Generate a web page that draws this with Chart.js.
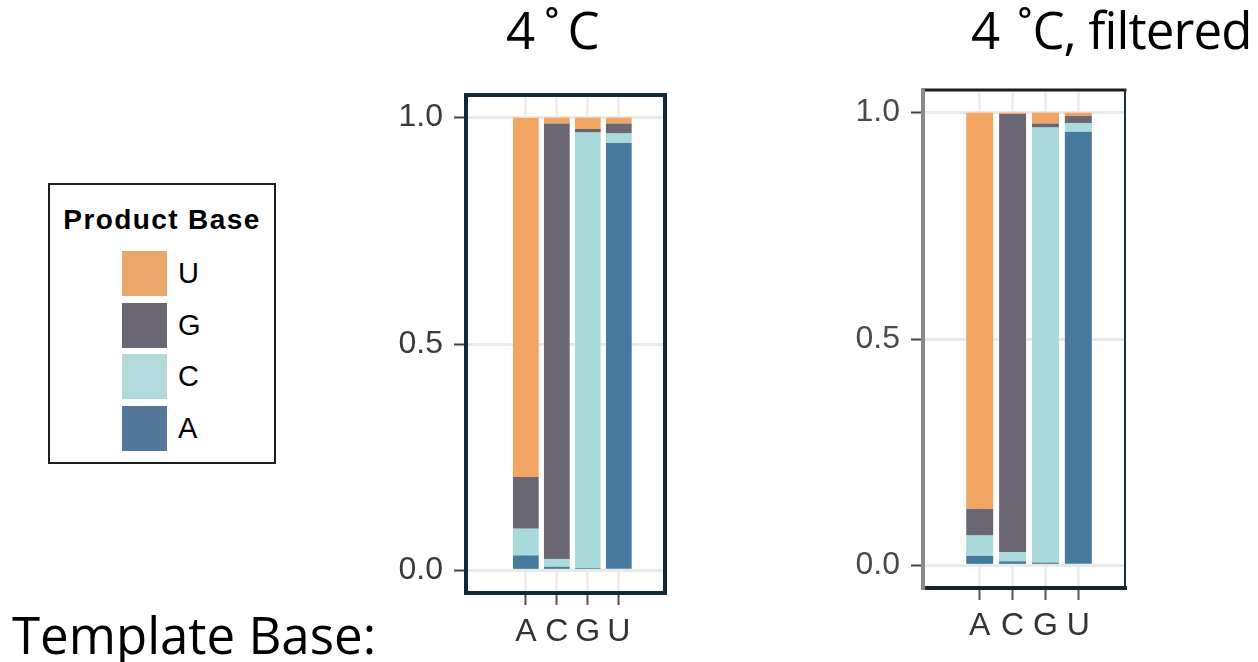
<!DOCTYPE html>
<html>
<head>
<meta charset="utf-8">
<title>Product base by template base, 4˚C</title>
<script src="https://cdn.jsdelivr.net/npm/chart.js@4.4.1/dist/chart.umd.min.js"></script>
<style>
  html, body { margin: 0; padding: 0; background: #fff; }
  body { width: 1258px; height: 662px; position: relative; overflow: hidden; font-family: "Open Sans", sans-serif; }
  .slideText { position: absolute; font-size: 51px; line-height: 51px; color: #000; white-space: nowrap; }
  .chartBox { position: absolute; }
  #legend { position: absolute; left: 48px; top: 183px; width: 224px; height: 277px; border: 2px solid #1e1e1e;
            font-family: "Liberation Sans", Arial, sans-serif; color: #000; }
  #legend .legendTitle { position: absolute; left: 0; right: 0; top: 19px; text-align: center; font-weight: bold;
                         font-size: 28px; letter-spacing: 1.4px; }
  #legend .legendRow { position: absolute; left: 72px; height: 45px; display: flex; align-items: center; }
  #legend .swatch { width: 45px; height: 45px; }
  #legend .legendLabel { margin-left: 11px; font-size: 29px; }
</style>
</head>
<body>
<div class="slideText" id="title1" style="left:506px; top:4px;">4<span style="margin-left:9px">˚</span><span style="margin-left:8px">C</span></div>
<div class="slideText" id="title2" style="left:971px; top:4px;">4<span style="margin-left:17px">˚</span><span style="letter-spacing:-0.9px">C, filtered</span></div>
<div class="slideText" style="left:12px; top:609px;">Template Base:</div>

<div id="legend"><div class="legendTitle">Product Base</div></div>

<div class="chartBox" style="left:370px; top:85px;"><canvas id="coldChart" width="320" height="577"></canvas></div>
<div class="chartBox" style="left:830px; top:80px;"><canvas id="filteredChart" width="320" height="582"></canvas></div>

<script>
// categories
const templateBases = ['A', 'C', 'G', 'U'];
const productBases = ['A', 'C', 'G', 'U'];       // stacking order, bottom to top
const legendOrder = ['U', 'G', 'C', 'A'];
const yTickValues = [0, 0.5, 1];
const yTickLabels = ['0.0', '0.5', '1.0'];

// 4˚C : fraction of each product base, one value per template base (A, C, G, U)
const coldA = [0.033, 0.008, 0.005, 0.944];
const coldC = [0.059, 0.017, 0.962, 0.021];
const coldG = [0.114, 0.962, 0.008, 0.022];
const coldU = [0.794, 0.013, 0.025, 0.013];

// 4˚C, filtered
const filtA = [0.021, 0.009, 0.006, 0.958];
const filtC = [0.045, 0.020, 0.961, 0.019];
const filtG = [0.059, 0.968, 0.009, 0.016];
const filtU = [0.875, 0.003, 0.024, 0.007];

const barColours = { A: '#457a9c', C: '#aadadb', G: '#6b6674', U: '#f2a462' };
const legendColours = { A: '#55789a', C: '#b3d9db', G: '#6b6674', U: '#e9a76b' };

// legend box
let legendDiv = document.querySelector('#legend');
legendOrder.forEach((base, i) => {
    let row = document.createElement('div');
    row.className = 'legendRow';
    row.style.top = (66 + i * 51.7) + 'px';
    let sw = document.createElement('div');
    sw.className = 'swatch';
    sw.style.background = legendColours[base];
    let lab = document.createElement('span');
    lab.className = 'legendLabel';
    lab.textContent = base;
    row.appendChild(sw);
    row.appendChild(lab);
    legendDiv.appendChild(row);
});

// draws the dark panel frame round the chart area
const panelFrame = {
    id: 'panelFrame',
    afterDraw(chart, args, opts) {
        const { left, right, top, bottom } = chart.chartArea;
        const ctx = chart.ctx;
        ctx.save();
        ctx.lineCap = 'square';
        const side = (s, x1, y1, x2, y2) => {
            ctx.strokeStyle = s.color;
            ctx.lineWidth = s.width;
            ctx.beginPath();
            ctx.moveTo(x1, y1);
            ctx.lineTo(x2, y2);
            ctx.stroke();
        };
        side(opts.top, left, top, right, top);
        side(opts.bottom, left, bottom, right, bottom);
        side(opts.left, left, top, left, bottom);
        side(opts.right, right, top, right, bottom);
        ctx.restore();
    }
};

const tickFont = { family: '"Liberation Sans", Arial, sans-serif', size: 32 };

function makeChart(canvasId, values, setup) {
    let datasets = productBases.map(base => ({
        label: base,
        data: values[base].map((v, i) => ({ x: i, y: v })),
        backgroundColor: barColours[base],
        borderWidth: 0,
        barPercentage: setup.barPercentage,
        categoryPercentage: 1
    }));
    return new Chart(document.querySelector(canvasId), {
        type: 'bar',
        data: { datasets: datasets },
        plugins: [panelFrame],
        options: {
            responsive: false,
            animation: false,
            layout: { padding: { top: setup.padTop, right: setup.padRight, left: 0, bottom: 0 } },
            plugins: {
                legend: { display: false },
                tooltip: { enabled: false },
                panelFrame: setup.frame
            },
            scales: {
                x: {
                    type: 'linear',
                    stacked: true,
                    bounds: 'data',
                    offset: false,
                    min: setup.xMin,
                    max: setup.xMax,
                    border: { display: false },
                    grid: { offset: false, color: '#eeeeee', lineWidth: 3, tickColor: '#555', tickLength: 12, tickWidth: 2 },
                    ticks: { font: tickFont, color: '#333', padding: setup.xPad, maxRotation: 0,
                             callback: (v) => templateBases[v] },
                    afterBuildTicks: (scale) => { scale.ticks = templateBases.map((b, i) => ({ value: i })); },
                    afterFit: (scale) => { scale.height = setup.xHeight; scale.paddingLeft = 0; scale.paddingRight = 0; }
                },
                y: {
                    type: 'linear',
                    stacked: true,
                    bounds: 'data',
                    min: -0.05,
                    max: 1.05,
                    border: { display: false },
                    grid: { color: '#e9e9e9', lineWidth: 3, tickColor: '#444', tickLength: 12, tickWidth: 2 },
                    ticks: { font: tickFont, color: setup.yColour, padding: 11,
                             callback: (v) => yTickLabels[yTickValues.indexOf(v)] },
                    afterBuildTicks: (scale) => { scale.ticks = yTickValues.map(v => ({ value: v })); },
                    afterFit: (scale) => { scale.width = setup.yWidth; scale.paddingTop = 0; scale.paddingBottom = 0; }
                }
            }
        }
    });
}

let coldChart = makeChart('#coldChart', { A: coldA, C: coldC, G: coldG, U: coldU }, {
    barPercentage: 0.83, xMin: -1.93, xMax: 4.49, padTop: 10, padRight: 25, yWidth: 96, xHeight: 69, xPad: 8,
    yColour: '#3a3a3a',
    frame: {
        top: { color: '#102a3a', width: 4 }, bottom: { color: '#102a3a', width: 4 },
        left: { color: '#102a3a', width: 4 }, right: { color: '#102a3a', width: 4 }
    }
});

let filteredChart = makeChart('#filteredChart', { A: filtA, C: filtC, G: filtG, U: filtU }, {
    barPercentage: 0.82, xMin: -1.725, xMax: 4.42, padTop: 10, padRight: 25, yWidth: 93, xHeight: 74, xPad: 7,
    yColour: '#4a4a4a',
    frame: {
        top: { color: '#1c1c1c', width: 3 }, bottom: { color: '#13252f', width: 4 },
        left: { color: '#8a8a8a', width: 4 }, right: { color: '#173040', width: 2 }
    }
});
</script>
</body>
</html>
